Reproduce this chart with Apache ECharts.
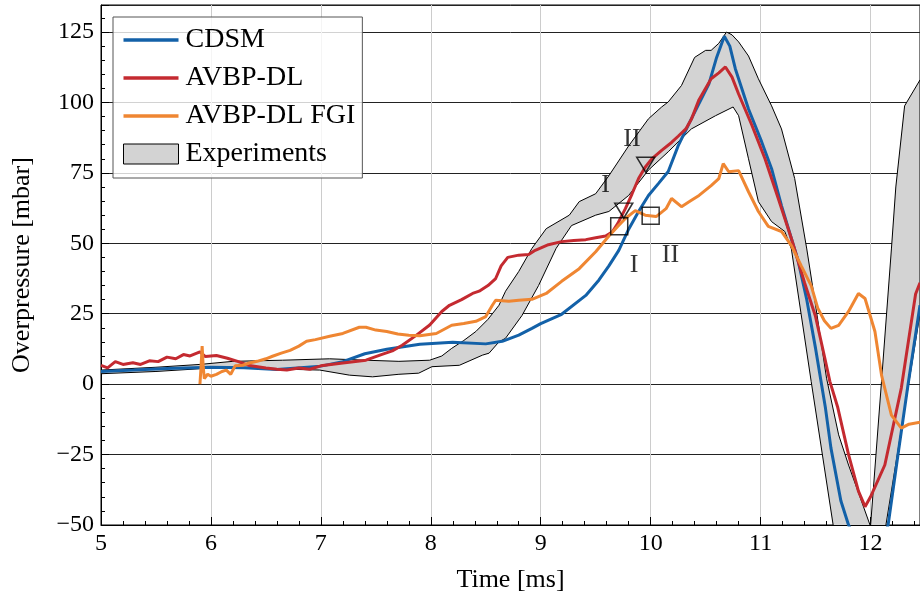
<!DOCTYPE html>
<html>
<head>
<meta charset="utf-8">
<script src="https://cdn.jsdelivr.net/npm/echarts@6/dist/echarts.min.js"></script>
<style>
html,body{margin:0;padding:0;background:#fff;}
#chart{width:920px;height:598px;}
</style>
</head>
<body>
<div id="chart"></div>
<script>
// values, [time ms, overpressure mbar]
var cdsm = [[5.0,4.5],[5.3,5.0],[5.6,5.6],[6.0,6.0],[6.3,5.8],[6.6,5.2],[7.0,6.4],[7.2,8.0],[7.4,10.8],[7.6,12.4],[7.9,14.2],[8.2,14.9],[8.5,14.3],[8.65,15.2],[8.8,17.4],[8.92,19.8],[9.0,21.5],[9.19,24.8],[9.41,31.5],[9.53,37],[9.62,42],[9.71,47.5],[9.8,55],[9.89,61.3],[9.98,67],[10.07,71.2],[10.16,75.5],[10.25,84.6],[10.37,94.2],[10.53,106.6],[10.6,116],[10.67,123.5],[10.72,120],[10.77,112],[10.89,97.7],[11.01,86],[11.1,76.5],[11.19,63.4],[11.28,51.7],[11.34,44],[11.42,30],[11.5,12.7],[11.59,-8.5],[11.64,-22.7],[11.73,-41.4],[11.8,-50],[11.95,-62],[12.05,-62],[12.16,-50],[12.25,-25],[12.34,-0.5],[12.45,28]];

var avbpDl = [[5.0,6.7],[5.06,5.8],[5.13,8.0],[5.2,7.0],[5.29,7.6],[5.36,7.0],[5.44,8.3],[5.52,8.0],[5.6,9.6],[5.68,9.0],[5.75,10.5],[5.81,10.0],[5.9,11.5],[5.95,9.8],[6.05,10.2],[6.15,9.2],[6.25,8.0],[6.35,6.6],[6.5,5.7],[6.6,5.3],[6.69,5.0],[6.8,5.7],[6.9,5.3],[7.0,6.5],[7.2,7.5],[7.41,8.5],[7.55,10.5],[7.65,11.8],[7.74,13.8],[7.87,17.4],[7.99,21],[8.1,25.8],[8.17,28],[8.28,30],[8.38,32.2],[8.44,33],[8.52,35],[8.59,37.5],[8.64,42],[8.7,45],[8.8,45.8],[8.89,46],[8.95,47.5],[9.07,49.5],[9.19,50.6],[9.3,51],[9.41,51.3],[9.5,52],[9.59,52.6],[9.65,54],[9.7,57],[9.77,62.3],[9.83,67.5],[9.89,73],[9.95,77],[10.01,80],[10.1,83],[10.19,85.8],[10.25,88],[10.32,90.6],[10.37,94],[10.44,101],[10.55,108.4],[10.62,110.5],[10.68,112.6],[10.74,109],[10.8,103],[10.92,92],[11.04,80],[11.16,66],[11.28,51.7],[11.4,36],[11.5,24],[11.58,10],[11.63,1],[11.7,-8],[11.8,-25],[11.89,-38],[11.95,-43.5],[12.0,-40],[12.13,-28.7],[12.28,-1.4],[12.41,32],[12.45,36]];

var avbpFgi = [[5.9,0],[5.91,6],[5.92,13.5],[5.93,6],[5.94,2],[5.97,3.5],[6.0,2.8],[6.05,3.5],[6.1,4.5],[6.14,5],[6.18,3.5],[6.22,6.5],[6.29,6.7],[6.35,7.5],[6.42,8.1],[6.5,9],[6.56,9.9],[6.64,11],[6.72,12],[6.8,13.5],[6.87,15.2],[6.95,15.8],[7.08,17],[7.2,18],[7.35,20.2],[7.41,20.2],[7.5,19.2],[7.6,18.7],[7.7,17.8],[7.8,17.4],[7.9,17.2],[8.05,18],[8.19,20.9],[8.3,21.5],[8.41,22.3],[8.5,24],[8.56,28],[8.59,29.8],[8.71,29.4],[8.8,29.8],[8.92,30.1],[9.05,32.2],[9.19,36.5],[9.35,41],[9.5,47],[9.62,52.6],[9.7,56],[9.77,58.8],[9.86,61.6],[9.95,60],[10.05,59.5],[10.14,62.3],[10.19,65.9],[10.28,63],[10.36,65],[10.44,67],[10.55,70.5],[10.62,73],[10.66,78.3],[10.71,75.4],[10.8,75.8],[10.89,68.3],[10.98,61.3],[11.07,56],[11.19,54.2],[11.28,49.2],[11.37,42],[11.46,35],[11.52,27],[11.58,22.5],[11.64,19.8],[11.71,20.9],[11.8,25.8],[11.89,32.2],[11.95,30.4],[12.04,18.7],[12.1,3.2],[12.19,-11],[12.28,-15.6],[12.35,-14.2],[12.45,-13.5]];

var expUpper = [[5.0,5],[5.5,6],[5.9,7],[6.2,8.1],[6.65,8.5],[7.08,9],[7.41,8.5],[7.71,8.1],[7.99,8.5],[8.1,10],[8.19,12.7],[8.3,15.5],[8.41,18.7],[8.52,23],[8.62,28],[8.68,33],[8.8,40],[8.92,48.2],[9.05,55.2],[9.26,60],[9.35,64.8],[9.5,67.6],[9.62,74],[9.8,84.6],[9.98,94.2],[10.1,98.4],[10.16,100.2],[10.28,106],[10.4,116],[10.5,118.5],[10.55,118.5],[10.62,121],[10.69,125],[10.74,124],[10.8,121.5],[10.89,116.5],[10.98,108.4],[11.1,98.8],[11.19,90.6],[11.31,73],[11.42,48],[11.5,28],[11.6,2.1],[11.71,-18],[11.8,-28.7],[12.0,-50.5],[12.1,1],[12.19,48],[12.23,70],[12.31,98.8],[12.45,108]];

var expLower = [[5.0,3.7],[5.5,4.5],[5.99,5.7],[6.5,5.5],[6.99,5],[7.26,3.2],[7.47,2.6],[7.71,3.5],[7.89,3.9],[8.01,6.2],[8.26,6.7],[8.47,10.3],[8.53,11],[8.62,15],[8.68,16.3],[8.83,24.4],[8.98,35],[9.14,48.2],[9.28,56.3],[9.5,60],[9.62,61.3],[9.8,67],[9.98,76],[10.16,82.5],[10.37,90.6],[10.59,95.3],[10.75,98.4],[10.8,95.3],[10.89,80],[10.98,64.8],[11.1,57.7],[11.22,54.2],[11.28,48],[11.46,1],[11.66,-50],[11.9,-80],[12.14,-50],[12.45,25]];

var triMarks = [[9.755,61.6],[9.955,77.9]];
var sqMarks = [[9.714,56.1],[10.0,59.8]];
var markLabels = [[9.59,70.5,'I'],[9.83,87.1,'II'],[9.85,42.1,'I'],[10.18,45.7,'II']];

var FONT = 'Liberation Serif';
var LINE_ICON = 'path://M0,0H55V3.4H0Z';
var chart = echarts.init(document.getElementById('chart'));

function lineSeries(name, data, color) {
  return {
    name: name, type: 'line', data: data, symbol: 'none', z: 3,
    lineStyle: {color: color, width: 3}, itemStyle: {color: color}
  };
}

chart.setOption({
  animation: false,
  grid: {left: 101, top: 5, right: -2, bottom: 71, show: true, borderColor: '#000', borderWidth: 1},
  legend: {
    orient: 'vertical', left: 113, top: 17,
    itemWidth: 55, itemHeight: 20, itemGap: 10,
    padding: [9, 7, 10, 10],
    symbolKeepAspect: true,
    backgroundColor: 'rgba(255,255,255,0.8)', borderColor: '#555', borderWidth: 1,
    textStyle: {fontFamily: FONT, fontSize: 28, color: '#000', padding: [0, 0, 0, 2]},
    data: [
      {name: 'CDSM', icon: LINE_ICON},
      {name: 'AVBP-DL', icon: LINE_ICON},
      {name: 'AVBP-DL FGI', icon: LINE_ICON},
      {name: 'Experiments', icon: 'rect', itemStyle: {color: '#d3d3d3', borderColor: '#000', borderWidth: 1}}
    ]
  },
  xAxis: {
    type: 'value', min: 5, max: 12.45, interval: 1,
    name: 'Time [ms]', nameLocation: 'middle', nameGap: 42,
    nameTextStyle: {fontFamily: FONT, fontSize: 26, color: '#000'},
    axisLine: {onZero: false, lineStyle: {color: '#000', width: 1}},
    axisTick: {inside: true, length: 8, lineStyle: {color: '#000'}},
    minorTick: {show: true, splitNumber: 5, length: 4, lineStyle: {color: '#000'}},
    axisLabel: {fontFamily: FONT, fontSize: 24, color: '#000', margin: 7, showMaxLabel: false},
    splitLine: {show: true, lineStyle: {color: '#cccccc', width: 1}}
  },
  yAxis: {
    type: 'value', min: -50, max: 134.6, interval: 25,
    name: 'Overpressure [mbar]', nameLocation: 'middle', nameGap: 66, nameRotate: 90,
    nameTextStyle: {fontFamily: FONT, fontSize: 26, color: '#000'},
    axisLine: {show: true, onZero: false, lineStyle: {color: '#000', width: 1}},
    axisTick: {show: true, inside: true, length: 8, lineStyle: {color: '#000'}},
    minorTick: {show: true, splitNumber: 5, length: 4, lineStyle: {color: '#000'}},
    axisLabel: {
      fontFamily: FONT, fontSize: 24, color: '#000', margin: 7, showMaxLabel: false,
      formatter: function (v) { return String(v).replace('-', '\u2212'); }
    },
    splitLine: {show: true, lineStyle: {color: '#222', width: 1}}
  },
  series: [
    {
      name: 'Experiments', type: 'custom', z: 1,
      itemStyle: {color: '#d3d3d3'},
      data: [[5, 0]], encode: {x: 0, y: 1},
      renderItem: function (params, api) {
        var pts = [];
        expUpper.forEach(function (p) { pts.push(api.coord(p)); });
        for (var i = expLower.length - 1; i >= 0; i--) pts.push(api.coord(expLower[i]));
        var cs = params.coordSys;
        return {
          type: 'group',
          clipPath: {type: 'rect', shape: {x: cs.x, y: cs.y, width: cs.width, height: cs.height}},
          children: [{
            type: 'polygon', shape: {points: pts},
            style: {fill: '#d3d3d3', stroke: '#000', lineWidth: 1}
          }]
        };
      }
    },
    lineSeries('CDSM', cdsm, '#1361a8'),
    lineSeries('AVBP-DL', avbpDl, '#c42a30'),
    lineSeries('AVBP-DL FGI', avbpFgi, '#ef8632'),
    {
      name: 'marks-tri', type: 'scatter', data: triMarks, z: 6,
      symbol: 'triangle', symbolRotate: 180, symbolSize: [18, 15],
      itemStyle: {color: 'rgba(0,0,0,0)', borderColor: '#000', borderWidth: 1.5}
    },
    {
      name: 'marks-sq', type: 'scatter', data: sqMarks, z: 6,
      symbol: 'rect', symbolSize: 17,
      itemStyle: {color: 'rgba(0,0,0,0)', borderColor: '#000', borderWidth: 1.5}
    },
    {
      name: 'marks-txt', type: 'scatter', data: markLabels, z: 6,
      symbolSize: 1, itemStyle: {color: 'rgba(0,0,0,0)'},
      label: {
        show: true, position: 'inside', fontFamily: FONT, fontSize: 26, color: '#000',
        formatter: function (p) { return p.value[2]; }
      }
    }
  ]
});
</script>
</body>
</html>
